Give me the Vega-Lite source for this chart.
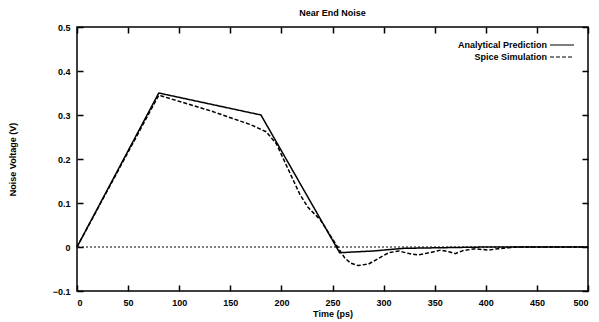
{
  "$schema": "https://vega.github.io/schema/vega-lite/v6.json",
  "autosize": {"type": "none"},
  "padding": {"left": 77, "top": 27, "right": 11, "bottom": 31},
  "width": 511,
  "height": 264,
  "background": "white",
  "title": {"text": "Near End Noise", "font": "Liberation Sans", "fontSize": 9, "fontWeight": "bold", "color": "black", "offset": 5},
  "config": {
    "view": {"stroke": "black", "strokeWidth": 1.5},
    "axis": {"labelFont": "Liberation Sans", "labelFontSize": 9, "labelFontWeight": "bold", "labelColor": "black", "titleFont": "Liberation Sans", "titleFontSize": 9, "titleFontWeight": "bold", "titleColor": "black", "domain": false, "ticks": false, "grid": true, "gridColor": "black", "gridWidth": 1.5, "gridOpacity": 1}
  },
  "datasets": {
    "curves": [
      {"t": 0, "v": 0, "series": "Analytical Prediction"},
      {"t": 80, "v": 0.35, "series": "Analytical Prediction"},
      {"t": 180, "v": 0.30, "series": "Analytical Prediction"},
      {"t": 257, "v": -0.013, "series": "Analytical Prediction"},
      {"t": 290, "v": -0.009, "series": "Analytical Prediction"},
      {"t": 320, "v": -0.003, "series": "Analytical Prediction"},
      {"t": 400, "v": 0, "series": "Analytical Prediction"},
      {"t": 500, "v": 0, "series": "Analytical Prediction"},
      {"t": 0, "v": 0, "series": "Spice Simulation"},
      {"t": 80, "v": 0.345, "series": "Spice Simulation"},
      {"t": 130, "v": 0.31, "series": "Spice Simulation"},
      {"t": 170, "v": 0.278, "series": "Spice Simulation"},
      {"t": 185, "v": 0.262, "series": "Spice Simulation"},
      {"t": 195, "v": 0.235, "series": "Spice Simulation"},
      {"t": 210, "v": 0.16, "series": "Spice Simulation"},
      {"t": 218, "v": 0.12, "series": "Spice Simulation"},
      {"t": 226, "v": 0.09, "series": "Spice Simulation"},
      {"t": 238, "v": 0.062, "series": "Spice Simulation"},
      {"t": 255, "v": 0.0, "series": "Spice Simulation"},
      {"t": 262, "v": -0.025, "series": "Spice Simulation"},
      {"t": 268, "v": -0.037, "series": "Spice Simulation"},
      {"t": 275, "v": -0.042, "series": "Spice Simulation"},
      {"t": 285, "v": -0.039, "series": "Spice Simulation"},
      {"t": 295, "v": -0.026, "series": "Spice Simulation"},
      {"t": 305, "v": -0.013, "series": "Spice Simulation"},
      {"t": 315, "v": -0.009, "series": "Spice Simulation"},
      {"t": 325, "v": -0.015, "series": "Spice Simulation"},
      {"t": 334, "v": -0.018, "series": "Spice Simulation"},
      {"t": 345, "v": -0.013, "series": "Spice Simulation"},
      {"t": 356, "v": -0.007, "series": "Spice Simulation"},
      {"t": 364, "v": -0.011, "series": "Spice Simulation"},
      {"t": 370, "v": -0.015, "series": "Spice Simulation"},
      {"t": 378, "v": -0.008, "series": "Spice Simulation"},
      {"t": 390, "v": -0.004, "series": "Spice Simulation"},
      {"t": 402, "v": -0.007, "series": "Spice Simulation"},
      {"t": 412, "v": -0.004, "series": "Spice Simulation"},
      {"t": 430, "v": 0, "series": "Spice Simulation"},
      {"t": 500, "v": 0, "series": "Spice Simulation"}
    ]
  },
  "layer": [
    {
      "data": {"values": [{}]},
      "mark": {"type": "rule", "color": "black", "strokeWidth": 1, "strokeDash": [2, 2]},
      "encoding": {
        "y": {"datum": 0, "type": "quantitative"}
      }
    },
    {
      "data": {"name": "curves"},
      "mark": {"type": "line", "color": "black", "strokeWidth": 1.5},
      "encoding": {
        "x": {"field": "t", "type": "quantitative", "scale": {"domain": [0, 500]},
          "axis": {"orient": "bottom", "title": "Time (ps)", "labelPadding": 7, "titlePadding": 2, "values": [0, 50, 100, 150, 200, 250, 300, 350, 400, 450, 500], "gridDash": [6, 252, 6, 1000]}},
        "y": {"field": "v", "type": "quantitative", "scale": {"domain": [-0.1, 0.5]},
          "axis": {"orient": "left", "title": "Noise Voltage (V)", "labelPadding": 7, "titlePadding": 35, "values": [-0.1, 0, 0.1, 0.2, 0.3, 0.4, 0.5], "format": "~g", "gridDash": [6, 499, 6, 2000]}},
        "strokeDash": {"field": "series", "type": "nominal",
          "scale": {"domain": ["Analytical Prediction", "Spice Simulation"], "range": [[1, 0], [4, 2]]},
          "legend": {"orient": "none", "legendX": 478, "legendY": 11, "title": null, "symbolType": "M-2,0H2", "symbolSize": 144, "symbolStrokeColor": "black", "symbolStrokeWidth": 1.2, "labelFont": "Liberation Sans", "labelFontSize": 9, "labelFontWeight": "bold", "labelColor": "black", "labelAlign": "right", "labelOffset": -22, "rowPadding": 0}}
      }
    }
  ]
}
